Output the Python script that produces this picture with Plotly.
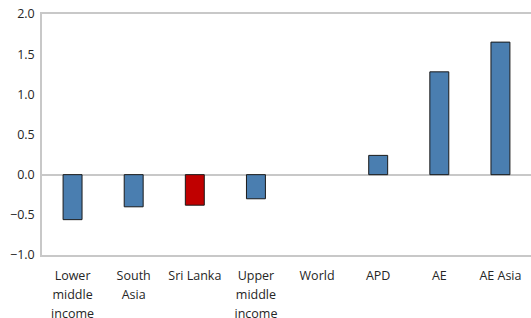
import plotly.graph_objects as go

categories = ["Lower<br>middle<br>income", "South<br>Asia", "Sri Lanka", "Upper<br>middle<br>income",
              "World", "APD", "AE", "AE Asia"]
values = [-0.56, -0.40, -0.38, -0.30, 0.0, 0.24, 1.28, 1.65]
bar_colors = ["#4a7eb0", "#4a7eb0", "#c00000", "#4a7eb0", "#4a7eb0", "#4a7eb0", "#4a7eb0", "#4a7eb0"]
y_ticks = [-1.0, -0.5, 0.0, 0.5, 1.0, 1.5, 2.0]

line_widths = [0 if v == 0 else 1 for v in values]

# each label line rendered at 12.5px inside a 14.5px base font for wider line spacing
tick_text = ["<br>".join("<span style='font-size:12.5px'>%s</span>" % part for part in c.split("<br>"))
             for c in categories]

fig = go.Figure(go.Bar(
    x=categories, y=values,
    marker=dict(color=bar_colors, line=dict(color="#1a1a1a", width=line_widths)),
    width=0.31,
))

fig.update_layout(
    width=531, height=318,
    margin=dict(l=42, r=0, t=14, b=63),
    paper_bgcolor="white", plot_bgcolor="white",
    font=dict(family="Open Sans", size=12.5, color="#262626"),
    showlegend=False,
)
fig.update_xaxes(
    automargin=False,
    tickmode="array", tickvals=categories, ticktext=tick_text,
    tickfont=dict(size=14.5),
    showline=True, linecolor="#c8c8c8", linewidth=1.5, mirror=True,
    ticks="outside", ticklen=6, tickcolor="rgba(0,0,0,0)",
    showgrid=False,
)
fig.update_yaxes(
    automargin=False,
    range=[-1.0, 2.0], tickvals=y_ticks, tickformat=".1f",
    showline=True, linecolor="#c8c8c8", linewidth=1.5,
    showgrid=False, zeroline=True, zerolinecolor="#c8c8c8", zerolinewidth=1.5,
    ticks="outside", ticklen=3, tickcolor="rgba(0,0,0,0)",
)

fig.write_html("out.html", config={"displayModeBar": False},
               post_script="document.body.style.margin='0';document.body.style.overflow='hidden';")
